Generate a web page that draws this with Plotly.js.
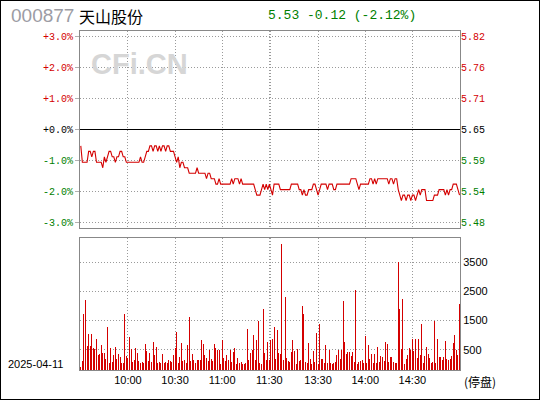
<!DOCTYPE html>
<html><head><meta charset="utf-8">
<script src="https://cdn.plot.ly/plotly-3.0.1.min.js"></script>
<style>html,body{margin:0;padding:0;background:#fff}#c{width:538px;height:398px;border:1px solid #000}</style>
</head><body><div id="c"></div><script>
const stockCode = '000877';
const stockName = '天山股份';
const quoteText = '5.53 -0.12 (-2.12%)';
const dateText = '2025-04-11';
const statusText = '(停盘)';
const prevClose = 5.65;
const pctTicks = [3, 2, 1, 0, -1, -2, -3];
const pctLabels = ['+3.0%', '+2.0%', '+1.0%', '+0.0%', '-1.0%', '-2.0%', '-3.0%'];
const priceLabels = ['5.82', '5.76', '5.71', '5.65', '5.59', '5.54', '5.48'];
const timeTickIdx = [30, 60, 90, 120, 121, 151, 181, 211];
const timeLabels = ['10:00', '10:30', '11:00', '11:30', '', '13:30', '14:00', '14:30'];
const volTickVals = [700, 1700, 2700, 3700];
const volTickText = ['500', '1500', '2500', '3500'];

const prices = [
5.62,5.59,5.59,5.59,5.59,5.61,5.61,5.60,5.61,5.61,
5.59,5.59,5.59,5.59,5.58,5.60,5.59,5.60,5.61,5.61,
5.60,5.60,5.59,5.60,5.60,5.61,5.61,5.60,5.60,5.59,
5.59,5.59,5.59,5.59,5.59,5.59,5.59,5.59,5.60,5.59,
5.59,5.60,5.61,5.61,5.62,5.62,5.61,5.62,5.62,5.61,
5.62,5.61,5.62,5.62,5.61,5.62,5.62,5.61,5.61,5.61,
5.60,5.59,5.60,5.58,5.59,5.59,5.58,5.58,5.58,5.57,
5.57,5.57,5.57,5.57,5.58,5.57,5.57,5.57,5.57,5.57,
5.56,5.57,5.57,5.56,5.56,5.56,5.55,5.55,5.56,5.55,
5.55,5.55,5.55,5.55,5.55,5.55,5.56,5.55,5.56,5.56,
5.56,5.55,5.56,5.55,5.55,5.55,5.55,5.55,5.55,5.55,
5.55,5.54,5.53,5.53,5.53,5.54,5.55,5.54,5.55,5.54,
5.55,5.54,5.53,5.55,5.55,5.55,5.55,5.54,5.54,5.54,
5.54,5.54,5.54,5.54,5.55,5.55,5.55,5.55,5.55,5.54,
5.54,5.53,5.54,5.53,5.53,5.54,5.54,5.54,5.55,5.55,
5.54,5.53,5.54,5.55,5.55,5.55,5.55,5.54,5.55,5.55,
5.55,5.54,5.54,5.55,5.55,5.55,5.55,5.55,5.55,5.55,
5.55,5.55,5.56,5.56,5.56,5.56,5.55,5.54,5.55,5.55,
5.55,5.55,5.55,5.55,5.56,5.56,5.55,5.56,5.55,5.56,
5.56,5.56,5.56,5.56,5.56,5.56,5.55,5.56,5.56,5.55,
5.56,5.56,5.54,5.53,5.52,5.53,5.53,5.52,5.53,5.53,
5.52,5.53,5.53,5.52,5.53,5.54,5.53,5.54,5.54,5.54,
5.52,5.52,5.52,5.52,5.52,5.53,5.53,5.53,5.54,5.54,
5.54,5.54,5.53,5.54,5.53,5.54,5.54,5.55,5.55,5.55,
5.54,5.53
];

const volumes = [
100,322,1909,2392,840,1254,840,1254,771,736,
1081,529,564,874,598,598,391,1495,253,771,
288,529,805,391,564,460,253,230,1909,495,
426,1150,736,288,357,771,598,322,253,260,
253,909,667,322,598,288,978,529,805,253,
280,253,564,253,288,253,357,322,288,529,
771,1323,253,460,943,322,357,253,874,1840,
322,564,357,253,357,357,357,1047,909,529,
426,322,702,391,322,909,771,702,702,219,
1047,426,322,529,357,702,288,633,771,219,
426,253,288,219,219,253,1426,357,598,702,
1219,357,1047,1702,253,219,2082,598,357,978,
357,1047,
1081,1495,391,1392,598,564,4324,357,2496,426,
322,288,633,1047,667,219,736,322,357,2185,
1909,288,253,943,391,219,667,288,1288,219,
1599,391,391,253,874,253,702,253,219,253,
288,529,702,391,702,2358,978,564,633,633,
495,633,288,2737,219,288,322,357,253,1185,
253,874,391,564,253,564,253,805,288,495,
460,322,978,909,288,460,460,288,253,253,
3703,2082,736,2427,219,391,529,771,702,1081,
667,1081,426,1081,529,1599,253,495,805,564,
426,253,288,1702,253,1081,460,460,357,460,
1012,391,357,391,495,943,1219,702,529,2254
];

const RED = '#d40000', GREEN = '#008000', GRID = '#9a9a9a', FRAME = '#888888';
const idx = prices.map((_, i) => i);
const pctToPrice = p => prevClose * (1 + p / 100);
const tickPrices = pctTicks.map(pctToPrice);
const colorFor = p => p > 0 ? RED : (p < 0 ? GREEN : '#000000');
const pctText = pctLabels.map((t, k) => '<span style="color:' + colorFor(pctTicks[k]) + '">' + t + '</span>');
const priceText = priceLabels.map((t, k) => '<span style="color:' + colorFor(pctTicks[k]) + '">' + t + '</span>');
const yRange = [pctToPrice(-3.19), pctToPrice(3.19)];
const xRange = [-0.5, 241.3];
const monoFont = {family: 'Liberation Mono, DejaVu Sans Mono, monospace', size: 10, color: '#000'};
const sansFont = {family: 'Liberation Sans, Arial, sans-serif', size: 11, color: '#000'};

const traces = [
  {x: idx, y: prices, xaxis: 'x', yaxis: 'y', type: 'scatter', mode: 'lines',
   line: {color: RED, width: 1.1}, hoverinfo: 'skip'},
  {x: [0], y: [prevClose], xaxis: 'x', yaxis: 'y2', type: 'scatter', mode: 'markers',
   marker: {opacity: 0}, hoverinfo: 'skip'},
  {x: idx, y: volumes, xaxis: 'x2', yaxis: 'y3', type: 'bar',
   marker: {color: RED, line: {width: 0}}, width: 0.62, hoverinfo: 'skip'}
];

const layout = {
  width: 538, height: 398,
  margin: {l: 79, r: 79, t: 30, b: 29},
  paper_bgcolor: '#ffffff', plot_bgcolor: '#ffffff',
  showlegend: false, bargap: 0,
  xaxis: {domain: [0, 1], anchor: 'y', range: xRange, tickmode: 'array', tickvals: timeTickIdx,
    showticklabels: false, ticks: '', showgrid: true, gridcolor: GRID, griddash: '1px,2px', gridwidth: 1,
    showline: true, mirror: true, linecolor: FRAME, linewidth: 1, zeroline: false, fixedrange: true},
  xaxis2: {domain: [0, 1], anchor: 'y3', range: xRange, tickmode: 'array', tickvals: timeTickIdx,
    ticktext: timeLabels, ticks: '', tickfont: sansFont, showgrid: true, gridcolor: GRID,
    griddash: '1px,2px', gridwidth: 1, showline: true, mirror: true, linecolor: FRAME, linewidth: 1,
    zeroline: false, fixedrange: true},
  yaxis: {domain: [0.4189, 1], anchor: 'x', range: yRange, tickmode: 'array', tickvals: tickPrices,
    ticktext: pctText, ticks: 'outside', ticklen: 4, tickcolor: '#b0b0b0', tickfont: monoFont,
    showgrid: true, gridcolor: GRID, griddash: '1px,2px', gridwidth: 1, showline: true, mirror: true,
    linecolor: FRAME, linewidth: 1, zeroline: false, fixedrange: true},
  yaxis2: {overlaying: 'y', side: 'right', anchor: 'x', range: yRange, tickmode: 'array',
    tickvals: tickPrices, ticktext: priceText, ticks: '', tickfont: monoFont, showgrid: false,
    showline: false, zeroline: false, fixedrange: true},
  yaxis3: {domain: [0, 0.3885], anchor: 'x2', side: 'right', range: [0, 4530], tickmode: 'array',
    tickvals: volTickVals, ticktext: volTickText, ticks: '', tickfont: sansFont, showgrid: true,
    gridcolor: GRID, griddash: '1px,2px', gridwidth: 1, showline: true, mirror: true,
    linecolor: FRAME, linewidth: 1, zeroline: false, fixedrange: true},
  shapes: [
    {type: 'line', xref: 'paper', x0: 0, x1: 1, yref: 'y', y0: prevClose, y1: prevClose,
     line: {color: '#000000', width: 1}, layer: 'above'}
  ],
  annotations: [
    {text: stockCode, xref: 'paper', yref: 'paper', x: -0.1879, y: 1.0457, xanchor: 'left', yanchor: 'middle',
     showarrow: false, font: {family: 'Liberation Sans, Arial, sans-serif', size: 19, color: '#9c9ca4'}},
    {text: stockName, xref: 'paper', yref: 'paper', x: -0.0066, y: 1.0457, xanchor: 'left', yanchor: 'middle',
     showarrow: false, font: {family: 'Noto Sans CJK SC, sans-serif', size: 16, color: '#000'}},
    {text: quoteText, xref: 'paper', yref: 'paper', x: 0.6895, y: 1.0457, xanchor: 'center', yanchor: 'middle',
     showarrow: false, font: {family: 'Liberation Mono, DejaVu Sans Mono, monospace', size: 13, color: GREEN}},
    {text: 'CFi.CN', xref: 'paper', yref: 'paper', x: 0.1553, y: 0.9012, xanchor: 'center', yanchor: 'middle',
     showarrow: false, font: {family: 'Liberation Sans, Arial, sans-serif', size: 29, color: '#d6d6d6', weight: 'bold'}},
    {text: dateText, xref: 'paper', yref: 'paper', x: -0.1942, y: 0.0177, xanchor: 'left', yanchor: 'middle',
     showarrow: false, font: sansFont},
    {text: statusText, xref: 'paper', yref: 'paper', x: 1.0516, y: -0.0333, xanchor: 'center', yanchor: 'middle',
     showarrow: false, font: {family: 'Noto Sans CJK SC, sans-serif', size: 12, color: '#000'}}
  ]
};

Plotly.newPlot('c', traces, layout, {displayModeBar: false, staticPlot: true});
</script></body></html>
